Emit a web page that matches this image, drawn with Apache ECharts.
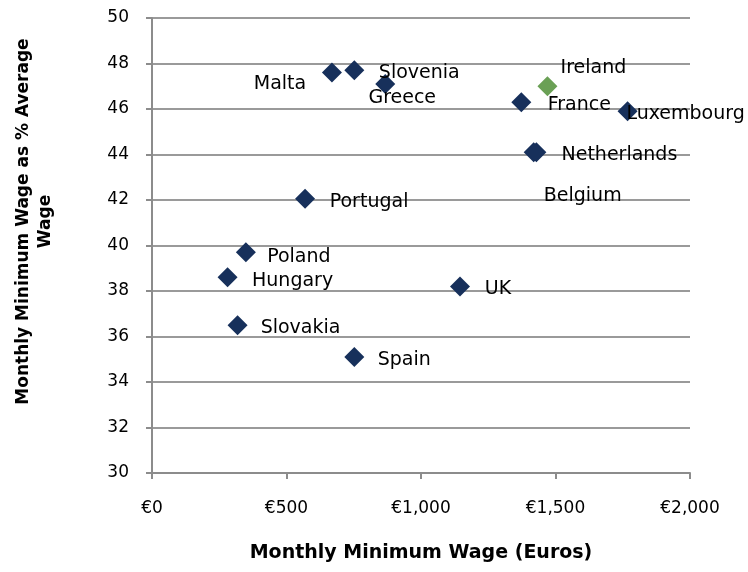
<!DOCTYPE html>
<html>
<head>
<meta charset="utf-8">
<script src="https://cdn.jsdelivr.net/npm/echarts@6/dist/echarts.min.js"></script>
<style>
  html, body { margin: 0; padding: 0; background: #fff; }
  #chart { width: 748px; height: 572px; }
</style>
</head>
<body>
<div id="chart"></div>
<script>
const countries = ['Malta', 'Slovenia', 'Greece', 'Ireland', 'France', 'Luxembourg', 'Netherlands',
  'Belgium', 'Portugal', 'Poland', 'Hungary', 'Slovakia', 'UK', 'Spain'];
const minWage = [669, 752, 867, 1470, 1373, 1768, 1429, 1419, 569, 349, 281, 318, 1145, 752];
const pctAverage = [47.6, 47.7, 47.1, 47.0, 46.3, 45.9, 44.1, 44.1, 42.05, 39.7, 38.6, 36.5, 38.2, 35.1];
// label offsets from the marker, as placed by hand in the original
const labelOffsets = [[-52, 11], [65, 3], [17, 14], [46, -18], [58, 3], [58, 3], [83, 3],
  [49, 44], [64, 3], [53, 5], [65, 4], [63, 3], [38, 3], [50, 3]];
const highlighted = 'Ireland';

const navy = '#17305b';
const green = '#6aa055';
const font = 'DejaVu Sans';

const chart = echarts.init(document.getElementById('chart'));

const data = countries.map((name, i) => ({
  name: name,
  value: [minWage[i], pctAverage[i]],
  itemStyle: { color: name === highlighted ? green : navy },
  label: { offset: labelOffsets[i] },
}));

const fmtEuro = (v) => '€' + v.toString().replace(/\B(?=(\d{3})+(?!\d))/g, ',');

chart.setOption({
  animation: false,
  grid: { left: 152, right: 58, top: 18, bottom: 99 },
  xAxis: {
    type: 'value',
    min: 0,
    max: 2000,
    interval: 500,
    name: 'Monthly Minimum Wage (Euros)',
    nameLocation: 'middle',
    nameGap: 71,
    nameTextStyle: { fontFamily: font, fontSize: 19, fontWeight: 'bold', color: '#000' },
    axisLine: { show: true, lineStyle: { color: '#8c8c8c', width: 2 } },
    axisTick: { show: true, length: 6, lineStyle: { color: '#8c8c8c', width: 2 } },
    axisLabel: { formatter: fmtEuro, margin: 27, fontFamily: font, fontSize: 17, color: '#000' },
    splitLine: { show: false },
  },
  yAxis: {
    type: 'value',
    min: 30,
    max: 50,
    interval: 2,
    name: 'Monthly Minimum Wage as % Average\nWage',
    nameLocation: 'middle',
    nameRotate: 90,
    nameGap: 95,
    nameTextStyle: {
      fontFamily: font, fontSize: 17, fontWeight: 'bold', color: '#000',
      lineHeight: 22, padding: [0, 0, 0, 48],
    },
    axisLine: { show: true, lineStyle: { color: '#8c8c8c', width: 2 } },
    axisTick: { show: true, length: 6, lineStyle: { color: '#8c8c8c', width: 2 } },
    axisLabel: { margin: 23, fontFamily: font, fontSize: 17, color: '#000' },
    splitLine: { show: true, lineStyle: { color: '#9a9a9a', width: 2 } },
  },
  series: [{
    type: 'scatter',
    symbol: 'diamond',
    symbolSize: 20,
    itemStyle: { opacity: 1 },
    data: data,
    label: {
      show: true,
      position: 'inside',
      formatter: '{b}',
      fontFamily: font,
      fontSize: 19,
      color: '#000',
      align: 'center',
      verticalAlign: 'middle',
    },
  }],
});
</script>
</body>
</html>
